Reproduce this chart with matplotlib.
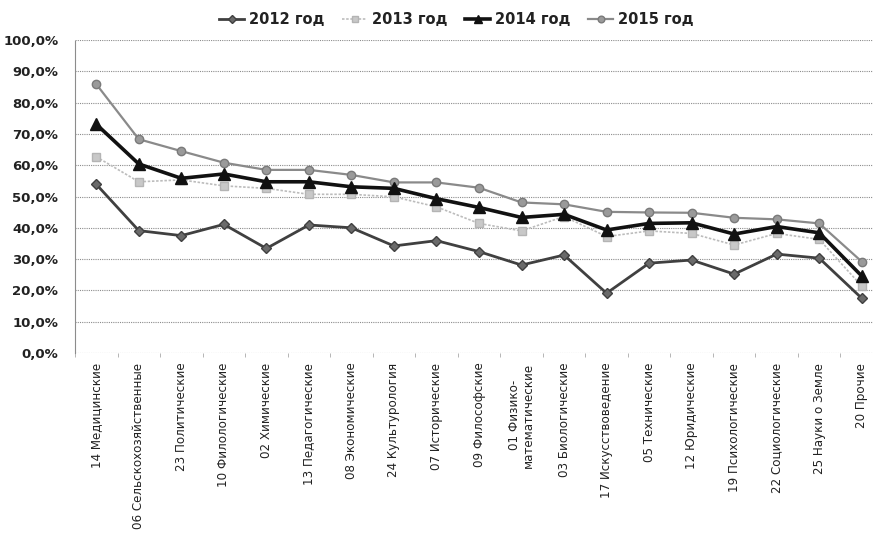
import matplotlib
matplotlib.use('Agg')
import matplotlib.pyplot as plt
from matplotlib.ticker import FuncFormatter
import numpy as np

categories = [
    '14 Медицинские', '06 Сельскохозяйственные', '23 Политические',
    '10 Филологические', '02 Химические', '13 Педагогические',
    '08 Экономические', '24 Культурология', '07 Исторические',
    '09 Философские', '01 Физико-\nматематические', '03 Биологические',
    '17 Искусствоведение', '05 Технические', '12 Юридические',
    '19 Психологические', '22 Социологические', '25 Науки о Земле',
    '20 Прочие',
]

y2012 = [53.9, 39.1, 37.5, 41.1, 33.4, 40.9, 40.0, 34.2, 35.9, 32.4,
         28.1, 31.3, 19.1, 28.7, 29.7, 25.2, 31.6, 30.3, 17.5]
y2013 = [62.7, 54.7, 55.3, 53.4, 52.6, 50.7, 50.7, 49.9, 46.7, 41.4,
         39.0, 43.6, 37.2, 39.0, 38.2, 34.5, 38.2, 36.3, 21.4]
y2014 = [73.1, 60.4, 55.8, 57.2, 54.7, 54.7, 53.1, 52.6, 49.3, 46.5,
         43.3, 44.3, 39.3, 41.4, 41.6, 38.0, 40.4, 38.4, 24.6]
y2015 = [85.9, 68.3, 64.5, 60.8, 58.5, 58.5, 56.9, 54.5, 54.5, 52.8,
         48.1, 47.5, 45.1, 44.9, 44.8, 43.2, 42.7, 41.4, 29.2]

x = np.arange(len(categories))

fig = plt.figure(figsize=(8.73, 5.4), dpi=100)
ax = fig.add_axes([75 / 873, 187 / 540, 808 / 873, 313 / 540])

ax.plot(x, y2012, color='#404040', lw=2.0, marker='D', ms=5,
        mfc='#6a6a6a', mec='#404040', label='2012 год', zorder=3)
ax.plot(x, y2013, color='#bcbcbc', lw=1.2, ls=(0, (1.5, 1)), marker='s', ms=6,
        mfc='#c8c8c8', mec='#b4b4b4', label='2013 год', zorder=3)
ax.plot(x, y2014, color='#111111', lw=2.6, marker='^', ms=8,
        mfc='#111111', mec='#111111', label='2014 год', zorder=4)
ax.plot(x, y2015, color='#8a8a8a', lw=1.6, marker='o', ms=6,
        mfc='#9a9a9a', mec='#7a7a7a', label='2015 год', zorder=3)

ax.set_xlim(-0.5, len(categories) - 0.5)
ax.set_ylim(0, 100)
ax.set_yticks(np.arange(0, 101, 10))
ax.yaxis.set_major_formatter(FuncFormatter(lambda v, p: f'{v:.1f}%'.replace('.', ',')))
ax.grid(axis='y', color='#8c8c8c', ls=(0, (1, 1)), lw=0.8)
ax.set_axisbelow(True)

for s in ['top', 'right', 'bottom']:
    ax.spines[s].set_visible(False)
ax.spines['left'].set_color('#8c8c8c')
ax.spines['left'].set_linestyle((0, (1, 1)))
ax.spines['left'].set_linewidth(0.8)

ax.set_xticks(x)
ax.set_xticklabels(categories, rotation=90, fontsize=8.6, color='#222222',
                   va='top', ha='center', linespacing=1.05)
ax.set_xticks(np.arange(-0.5, len(categories), 1), minor=True)
ax.tick_params(axis='x', which='major', length=0, pad=7)
ax.tick_params(axis='x', which='minor', length=3, color='#aaaaaa')
ax.tick_params(axis='y', length=0, pad=12, labelsize=9.5)
for t in ax.get_yticklabels():
    t.set_fontweight('bold')
    t.set_color('#222222')

leg = fig.legend(loc='center', bbox_to_anchor=(0.523, 0.963), ncol=4,
                 frameon=False, handlelength=1.7, columnspacing=1.2,
                 handletextpad=0.35, markerscale=0.8,
                 prop={'weight': 'bold', 'size': 10.5})
for t in leg.get_texts():
    t.set_color('#222222')

fig.savefig('out.png', dpi=100)
